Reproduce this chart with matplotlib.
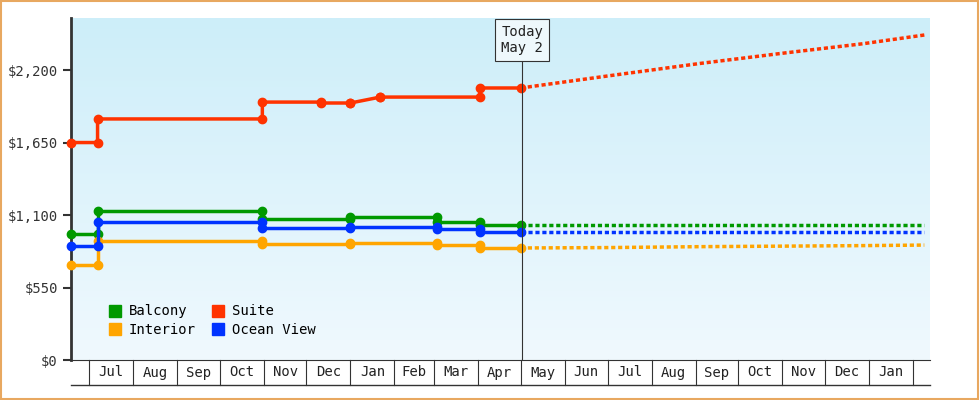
import matplotlib.pyplot as plt
import numpy as np
from matplotlib.colors import LinearSegmentedColormap

# days counted from Jul 1 of the first year
balcony_days = [-13, 6, 6, 122, 122, 184, 184, 245, 245, 275, 275, 304]
balcony_vals = [956, 956, 1130, 1130, 1070, 1070, 1085, 1085, 1047, 1047, 1024, 1024]
interior_days = [-13, 6, 6, 122, 122, 184, 184, 245, 245, 275, 275, 304]
interior_vals = [721, 721, 903, 903, 880, 880, 888, 888, 873, 873, 850, 850]
suite_days = [-13, 6, 6, 122, 122, 163, 163, 184, 184, 205, 205, 275, 275, 304]
suite_vals = [1650, 1650, 1829, 1829, 1957, 1957, 1950, 1950, 1950, 1995, 1995, 1995, 2064, 2064]
ocean_days = [-13, 6, 6, 122, 122, 184, 184, 245, 245, 275, 275, 304]
ocean_vals = [865, 865, 1047, 1047, 1001, 1001, 1006, 1006, 994, 994, 971, 971]

# forecast (dotted)
fc_days = [304, 365, 430, 490, 545, 588]
fc_balcony = [1024, 1024, 1024, 1024, 1024, 1024]
fc_interior = [850, 853, 860, 864, 868, 872]
fc_suite = [2064, 2155, 2250, 2330, 2400, 2466]
fc_ocean = [971, 971, 971, 971, 971, 971]

month_starts = [0, 31, 62, 92, 123, 153, 184, 215, 243, 274, 304, 335, 365,
                396, 427, 457, 488, 518, 549, 580]
month_labels = ['Jul', 'Aug', 'Sep', 'Oct', 'Nov', 'Dec', 'Jan', 'Feb', 'Mar', 'Apr',
                'May', 'Jun', 'Jul', 'Aug', 'Sep', 'Oct', 'Nov', 'Dec', 'Jan']
yticks = [0, 550, 1100, 1650, 2200]
today = 305

plt.rcParams['font.family'] = 'DejaVu Sans Mono'
fig = plt.figure(figsize=(9.8, 4.0), dpi=100)
fig.patches.append(plt.Rectangle((0.001, 0.002), 0.997, 0.995, transform=fig.transFigure,
                                 fill=False, edgecolor='#e8a860', linewidth=1.5))
ax = fig.add_axes([71 / 980, 40 / 400, 859 / 980, 342 / 400])
xmin, xmax = -12.7, 592
ymin, ymax = 0, 2595
ax.set_xlim(xmin, xmax)
ax.set_ylim(ymin, ymax)

grad = np.linspace(0, 1, 256).reshape(-1, 1)
cmap = LinearSegmentedColormap.from_list('bg', ['#f0f9fe', '#cdeef9'])
ax.imshow(grad, extent=[xmin, xmax, ymin, ymax], origin='lower', aspect='auto', cmap=cmap, zorder=0)

series = [
    ('Balcony', balcony_days, balcony_vals, fc_balcony, '#009900'),
    ('Interior', interior_days, interior_vals, fc_interior, '#ffa500'),
    ('Suite', suite_days, suite_vals, fc_suite, '#ff3300'),
    ('Ocean View', ocean_days, ocean_vals, fc_ocean, '#0033ff'),
]
handles = []
for name, d, v, fc, col in series:
    ax.plot(d, v, color=col, linewidth=2.5, marker='o', markersize=6, clip_on=False, zorder=3)
    ax.plot(fc_days, fc, color=col, linewidth=2.5, linestyle=(0, (1.2, 0.8)), zorder=3)
    handles.append(plt.Line2D([], [], color=col, marker='s', linestyle='none', markersize=9, label=name))

ax.axvline(today, ymax=2428 / ymax, color='#333333', linewidth=0.8, zorder=4)
ax.text(today, 2428, 'Today\nMay 2', ha='center', va='center', fontsize=10, color='#222222',
        bbox=dict(boxstyle='square,pad=0.45', facecolor='#eef8fc', edgecolor='#333333', linewidth=0.8),
        zorder=5)

ax.legend(handles=handles, loc='lower left', ncol=2, frameon=False, fontsize=10,
          handletextpad=0.0, columnspacing=0.6, labelspacing=0.35,
          bbox_to_anchor=(0.02, 0.03))

ax.set_yticks(yticks)
ax.set_yticklabels([f'${v:,}' for v in yticks], fontsize=10, color='#333333')
ax.set_xticks([])
for s in ['top', 'right']:
    ax.spines[s].set_visible(False)
ax.spines['left'].set_linewidth(2)
ax.spines['left'].set_color('#333333')
ax.spines['bottom'].set_color('#333333')
ax.tick_params(axis='y', length=6, width=1.5, color='#333333')

# month boxes under the axis
trans = ax.get_xaxis_transform()
box_h = 25 / 342
ax.plot([xmin, xmax], [-box_h, -box_h], transform=trans, color='#333333', linewidth=1, clip_on=False)
for b in month_starts:
    ax.plot([b, b], [0, -box_h], transform=trans, color='#333333', linewidth=0.8, clip_on=False)
for i, lab in enumerate(month_labels):
    mid = (month_starts[i] + month_starts[i + 1]) / 2
    ax.text(mid, -box_h / 2, lab, transform=trans, ha='center', va='center', fontsize=10, color='#222222')

fig.savefig('out.png', dpi=100)
